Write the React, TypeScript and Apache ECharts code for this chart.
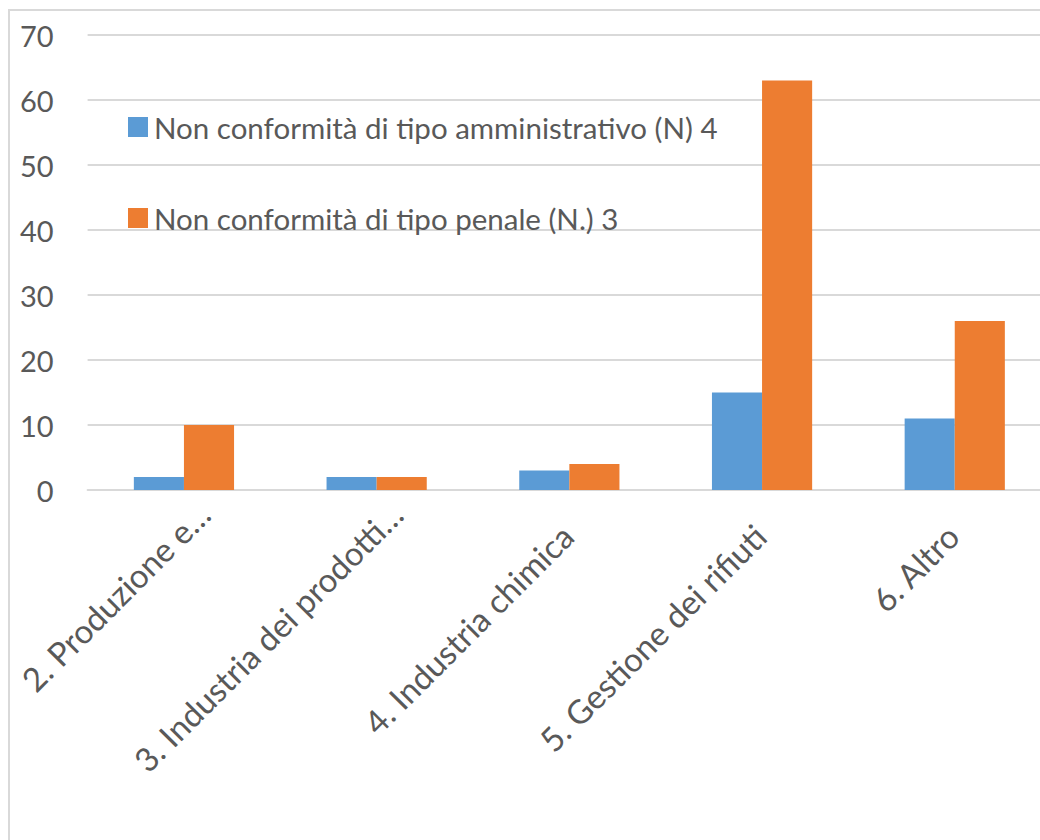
import React, { useEffect, useRef } from "react";
import * as echarts from "echarts";

const categories = [
  "2. Produzione e…",
  "3. Industria dei prodotti…",
  "4. Industria chimica",
  "5. Gestione dei rifiuti",
  "6. Altro",
];
const seriesNames = [
  "Non conformità di tipo amministrativo (N) 4",
  "Non conformità di tipo penale (N.) 3",
];
const amministrativo = [2, 2, 3, 15, 11];
const penale = [10, 2, 4, 63, 26];
const yTicks = { min: 0, max: 70, interval: 10 };

const FONT = "Lato";
const TEXT = "#595959";

export default function App() {
  const ref = useRef<HTMLDivElement>(null);
  useEffect(() => {
    document.body.style.overflow = "hidden";
    const chart = echarts.init(ref.current!, null, { renderer: "svg" });
    const labelStyle = { color: TEXT, fontSize: 33, fontFamily: FONT };
    chart.setOption({
      animation: false,
      textStyle: { fontFamily: FONT },
      color: ["#5B9BD5", "#ED7D31"],
      legend: {
        orient: "vertical",
        left: 113,
        top: 96,
        itemWidth: 20,
        itemHeight: 20,
        itemGap: 61,
        icon: "rect",
        data: seriesNames,
        textStyle: { color: TEXT, fontSize: 29.5, fontFamily: FONT, padding: [0, 0, 0, 1] },
      },
      grid: {
        left: 77.6,
        top: 24,
        width: 963.5,
        height: 455,
        containLabel: false,
        outerBoundsMode: "none",
      },
      xAxis: {
        type: "category",
        data: categories,
        axisLine: { lineStyle: { color: "#d9d9d9", width: 2 } },
        axisTick: { show: false },
        axisLabel: {
          rotate: 45,
          interval: 0,
          margin: 38,
          ...labelStyle,
          formatter: (v: string) => (v.endsWith("…") ? `{e|${v}}` : `{n|${v}}`),
          rich: {
            e: { ...labelStyle, padding: [0, -28, 0, 0] },
            n: { ...labelStyle, padding: [0, 3, 0, 0] },
          },
        },
      },
      yAxis: {
        type: "value",
        min: yTicks.min,
        max: yTicks.max,
        interval: yTicks.interval,
        axisLine: { show: false },
        axisTick: { show: false },
        splitLine: { lineStyle: { color: "#d9d9d9", width: 2 } },
        axisLabel: { color: TEXT, fontSize: 29, fontFamily: FONT, margin: 34 },
      },
      series: [
        {
          name: seriesNames[0],
          type: "bar",
          data: amministrativo,
          barGap: "0%",
          barCategoryGap: "48%",
        },
        {
          name: seriesNames[1],
          type: "bar",
          data: penale,
          barGap: "0%",
          barCategoryGap: "48%",
        },
      ],
    });
    return () => chart.dispose();
  }, []);
  return (
    <div
      style={{
        position: "absolute",
        left: 8,
        top: 9,
        borderLeft: "2px solid #d9d9d9",
        borderTop: "2px solid #d9d9d9",
        background: "#fff",
      }}
    >
      <div ref={ref} style={{ width: 1100, height: 840 }} />
    </div>
  );
}
